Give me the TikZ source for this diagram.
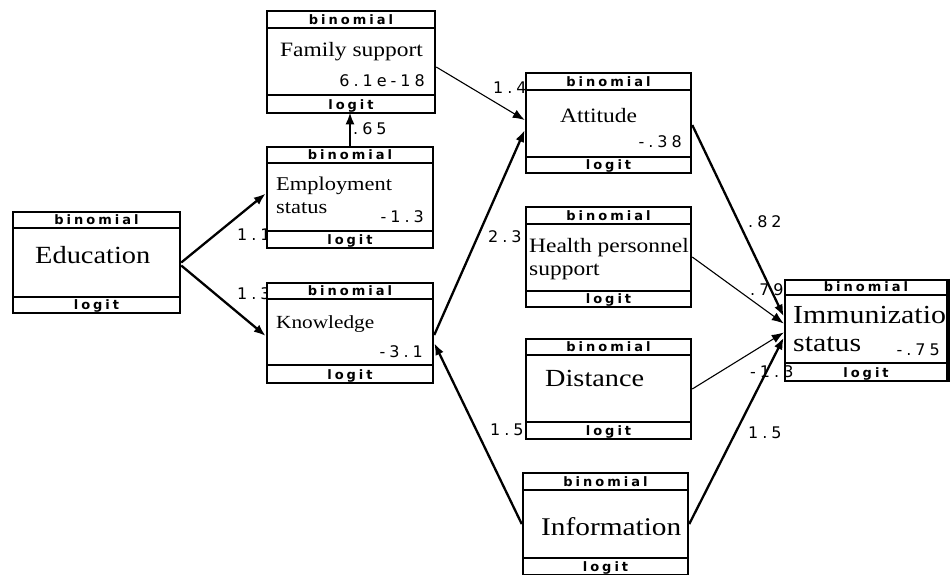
\documentclass[tikz,border=0pt]{standalone}
\usepackage{fontspec}
\usetikzlibrary{arrows.meta,fit}
\setmainfont[FakeStretch=1.15]{Liberation Serif}
\newfontfamily\hdrfam[LetterSpace=23]{DejaVu Sans}
\newfontfamily\numfam[LetterSpace=25]{DejaVu Sans}
\newcommand\fsz[1]{\fontsize{#1}{#1}\selectfont}
\tikzset{
  boxn/.style={draw, line width=2.5pt, fill=white, inner sep=0pt},
  sepline/.style={line width=2pt},
  hdr/.style={font=\hdrfam\bfseries\fsz{13}, inner sep=0pt, anchor=base},
  nm/.style={inner sep=0pt, anchor=base west},
  num/.style={font=\numfam\fsz{16}, inner sep=0pt, anchor=base east},
  lbl/.style={font=\numfam\fsz{16}, inner sep=0pt, anchor=base west},
  thickarr/.style={line width=2.3pt, -{Latex[length=12pt,width=9pt]}},
  thinarr/.style={line width=1.1pt, -{Latex[length=12pt,width=9pt]}},
}
\newcommand\dmbox[7]{%
  \node[boxn, fit={(#2,#3) (#4,#5)}] (#1) {};
  \draw[sepline] (#2,#6) -- (#4,#6);
  \draw[sepline] (#2,#7) -- (#4,#7);
  \node[hdr] (#1-h) at ({(#2+#4)/2},{#6-4}) {binomial};
  \node[hdr] (#1-l) at ({(#2+#4)/2},{#5-4}) {logit};
}
\begin{document}
\begin{tikzpicture}[x=1pt,y=-1pt]
\useasboundingbox (0,0) rectangle (950,574);
% edge labels (drawn first so boxes overlap them as in the reference)
\node[lbl] (l-ee) at (237,240) {1.1};
\node[lbl] (l-ek) at (237,299) {1.3};
% boxes
\dmbox{fam}{267}{11}{435}{113}{28}{95}
\dmbox{emp}{267}{147}{433}{248}{163}{231}
\dmbox{edu}{13}{212}{180}{313}{228}{297}
\dmbox{know}{267}{283}{433}{383}{299}{365}
\dmbox{att}{526}{73}{691}{173}{90}{157}
\dmbox{hea}{526}{207}{691}{307}{224}{291}
\dmbox{dist}{526}{339}{691}{439}{355}{422}
\dmbox{info}{523}{473}{688}{575}{490}{558}
\dmbox{imm}{785}{280}{947}{381}{295}{363}
% names and values
\node[nm, font=\fsz{20.4}] (fam-t) at (280,56) {Family support};
\node[num] (fam-v) at (425,86) {6.1e-18};
\node[nm, font=\fsz{19.5}] (emp-t) at (276,190) {Employment};
\node[nm, font=\fsz{19.5}] (emp-t2) at (276,213) {status};
\node[num] (emp-v) at (424,222) {-1.3};
\node[nm, font=\fsz{24.7}] (edu-t) at (35,263) {Education};
\node[nm, font=\fsz{18.5}] (know-t) at (276,328) {Knowledge};
\node[num] (know-v) at (423,357) {-3.1};
\node[nm, font=\fsz{20.4}] (att-t) at (560,122) {Attitude};
\node[num] (att-v) at (682,147) {-.38};
\node[nm, font=\fsz{20.4}] (hea-t) at (529,252) {Health personnel};
\node[nm, font=\fsz{20.4}] (hea-t2) at (529,275) {support};
\node[nm, font=\fsz{24.6}] (dist-t) at (545,386) {Distance};
\node[nm, font=\fsz{25.5}] (info-t) at (541,535) {Information};
\node[nm, font=\fsz{26}] (imm-t) at (793,323) {Immunization};
\node[nm, font=\fsz{26}] (imm-t2) at (793,351) {status};
\node[num] (imm-v) at (940,355) {-.75};
% right border of the last box drawn over its overflowing name
\draw[line width=2.5pt] (imm.north east) -- (imm.south east);
% connectors
\draw[thickarr] (edu.east) -- ([yshift=4pt]emp.west);
\draw[thickarr] ([yshift=-3pt]edu.east) -- ([yshift=-3pt]know.west);
\draw[thickarr] (emp.north) -- ([yshift=2pt]emp.north |- fam.south);
\draw[thinarr] ([yshift=-5pt]fam.east) -- ([yshift=3pt]att.west);
\draw[thickarr] ([yshift=-2pt]know.east) -- ([yshift=-7pt]att.west);
\draw[thickarr] (info.west) -- ([yshift=-10pt]know.east);
\draw[thickarr] ([yshift=-2pt]att.east) -- ([yshift=14pt]imm.west);
\draw[thinarr] (hea.east) -- ([yshift=7pt]imm.west);
\draw[thinarr] (dist.east) -- ([yshift=-2pt]imm.west);
\draw[thickarr] (info.east) -- ([yshift=-7pt]imm.west);
% remaining edge labels
\node[lbl] (l-ef) at (353,134) {.65};
\node[lbl] (l-fa) at (493,93) {1.4};
\node[lbl] (l-ka) at (488,242) {2.3};
\node[lbl] (l-ik) at (490,435) {1.5};
\node[lbl] (l-ai) at (748,227) {.82};
\node[lbl] (l-hi) at (750,295) {.79};
\node[lbl] (l-di) at (750,377) {-1.3};
\node[lbl] (l-ii) at (748,438) {1.5};
\end{tikzpicture}
\end{document}
